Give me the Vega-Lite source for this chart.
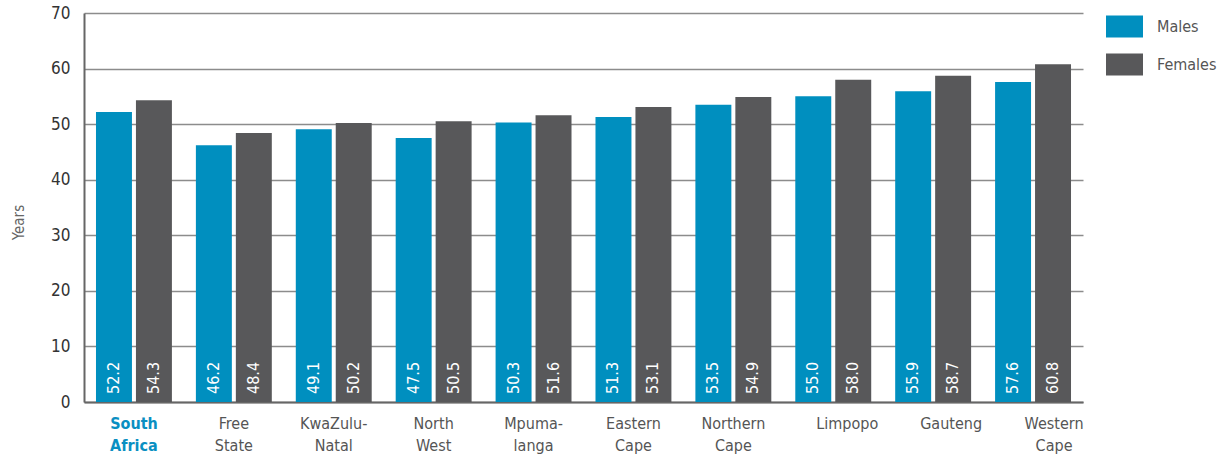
{
  "$schema": "https://vega.github.io/schema/vega-lite/v6.json",
  "width": 999,
  "height": 389,
  "autosize": {"type": "none"},
  "padding": {"left": 84, "top": 13, "right": 138, "bottom": 54},
  "background": "white",
  "config": {
    "view": {"stroke": null},
    "font": "DejaVu Sans Condensed, Roboto, sans-serif"
  },
  "data": {
    "values": [
      {"region": "South|Africa", "sex": "Males", "years": 52.2},
      {"region": "South|Africa", "sex": "Females", "years": 54.3},
      {"region": "Free|State", "sex": "Males", "years": 46.2},
      {"region": "Free|State", "sex": "Females", "years": 48.4},
      {"region": "KwaZulu-|Natal", "sex": "Males", "years": 49.1},
      {"region": "KwaZulu-|Natal", "sex": "Females", "years": 50.2},
      {"region": "North|West", "sex": "Males", "years": 47.5},
      {"region": "North|West", "sex": "Females", "years": 50.5},
      {"region": "Mpuma-|langa", "sex": "Males", "years": 50.3},
      {"region": "Mpuma-|langa", "sex": "Females", "years": 51.6},
      {"region": "Eastern|Cape", "sex": "Males", "years": 51.3},
      {"region": "Eastern|Cape", "sex": "Females", "years": 53.1},
      {"region": "Northern|Cape", "sex": "Males", "years": 53.5},
      {"region": "Northern|Cape", "sex": "Females", "years": 54.9},
      {"region": "Limpopo", "sex": "Males", "years": 55.0},
      {"region": "Limpopo", "sex": "Females", "years": 58.0},
      {"region": "Gauteng", "sex": "Males", "years": 55.9},
      {"region": "Gauteng", "sex": "Females", "years": 58.7},
      {"region": "Western|Cape", "sex": "Males", "years": 57.6},
      {"region": "Western|Cape", "sex": "Females", "years": 60.8}
    ]
  },
  "encoding": {
    "x": {
      "field": "region",
      "type": "nominal",
      "sort": null,
      "scale": {"paddingInner": 0.24, "paddingOuter": 0.12},
      "axis": {
        "title": null,
        "labelAngle": 0,
        "labelExpr": "split(datum.value, '|')",
        "labelFontSize": 16,
        "labelLineHeight": 22,
        "labelColor": {"condition": {"test": "datum.value === 'South|Africa'", "value": "#0a8fc2"}, "value": "#555555"},
        "labelFontWeight": {"condition": {"test": "datum.value === 'South|Africa'", "value": "bold"}, "value": "normal"},
        "labelOffset": {"condition": [
          {"test": "datum.value === 'Limpopo'", "value": 14},
          {"test": "datum.value === 'Gauteng'", "value": 18},
          {"test": "datum.value === 'Western|Cape'", "value": 21}
        ], "value": 0},
        "labelPadding": 13,
        "ticks": false,
        "domainColor": "#666666",
        "domainWidth": 2,
        "grid": false
      }
    },
    "xOffset": {"field": "sex", "type": "nominal", "sort": ["Males", "Females"], "scale": {"paddingInner": 0.1}}
  },
  "layer": [
    {
      "mark": {"type": "bar"},
      "encoding": {
        "y": {
          "field": "years",
          "type": "quantitative",
          "scale": {"domain": [0, 70]},
          "axis": {
            "title": "Years",
            "titleFontSize": 15,
            "titleFontWeight": "normal",
            "titleColor": "#666666",
            "titlePadding": 24,
            "titleY": 209,
            "tickCount": 7,
            "labelFontSize": 17,
            "labelColor": "#333333",
            "labelPadding": 14,
            "ticks": false,
            "domainColor": "#666666",
            "domainWidth": 2,
            "gridColor": "#8c8c8c",
            "gridWidth": 1.5
          }
        },
        "color": {
          "field": "sex",
          "type": "nominal",
          "sort": ["Males", "Females"],
          "scale": {"domain": ["Males", "Females"], "range": ["#008fbf", "#58585a"]},
          "legend": {
            "title": null,
            "orient": "none",
            "legendX": 1022,
            "legendY": -5,
            "symbolType": "M-1,-0.6H1V0.6H-1Z",
            "symbolSize": 1369,
            "symbolStrokeWidth": 0,
            "symbolOpacity": 1,
            "labelFontSize": 16,
            "labelColor": "#555555",
            "labelOffset": 14,
            "rowPadding": 8
          }
        }
      }
    },
    {
      "mark": {"type": "text", "angle": 270, "align": "left", "baseline": "middle", "color": "white", "fontSize": 16, "dx": 8},
      "encoding": {
        "y": {"datum": 0, "type": "quantitative"},
        "text": {"field": "years", "type": "quantitative", "format": ".1f"}
      }
    }
  ]
}
